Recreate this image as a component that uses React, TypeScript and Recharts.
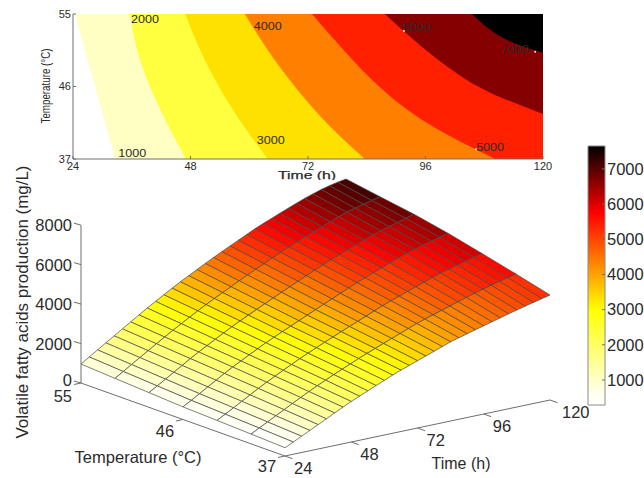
import React from "react";
import { Area, Bar, BarChart, ComposedChart, Line, Scatter, XAxis, YAxis } from "recharts";

const timeTicks = [24, 48, 72, 96, 120];
const tempTicks = [37, 46, 55];
const zTicks = [0, 2000, 4000, 6000, 8000];
const barTicks = [1000, 2000, 3000, 4000, 5000, 6000, 7000];

// Contour lines: time (h) and temperature (°C) along each level
const c1000t = [24.4, 28.5, 32.6];
const c1000T = [55, 46, 37];
const c2000t = [35.6, 37.1, 39.7, 43.2, 47.1];
const c2000T = [55, 50.5, 46, 41.4, 37];
const c3000t = [46.9, 50, 53.8, 58.5, 63.8];
const c3000T = [55, 50.5, 46, 41.4, 37];
const c4000t = [59.1, 63.8, 69.3, 75.9, 83.6];
const c4000T = [55, 50.5, 46, 41.4, 37];
const c5000t = [72.8, 79.3, 86.5, 96.5, 110.2];
const c5000T = [55, 50.5, 46, 41.4, 37];
const c6000t = [87.7, 95.3, 102, 109, 120];
const c6000T = [55, 50.9, 47.8, 45.3, 42.6];
const c7000t = [105.5, 111.6, 120];
const c7000T = [55, 52.1, 50.2];

const bandFills = ["#FFFFC4", "#FFFF40", "#FFE100", "#FF8000", "#FF2000", "#850000", "#000000"];

const contourLabelText = ["1000", "2000", "3000", "4000", "5000", "6000", "7000"];
const contourLabelTime = [36.1, 38.7, 64.4, 63.8, 109.2, 94.3, 114.3];
const contourLabelTemp = [37.7, 54.4, 39.4, 53.5, 38.5, 53.4, 50.6];
const contourMarkTime = [91.6, 118.4, 106.3];
const contourMarkTemp = [52.9, 50.3, 38.2];

// Surface grid
const gridTimes = [24, 27, 30, 33, 36, 39, 42, 45, 48, 51, 54, 57, 60, 63, 66, 69, 72, 75, 78, 81, 84, 87, 90, 93, 96, 99, 102, 105, 108, 111, 114, 117, 120];
const gridTemps = [37, 40, 43, 46, 49, 52, 55];
const z37 = [420, 620, 825, 1030, 1235, 1440, 1650, 1855, 2055, 2235, 2415, 2595, 2770, 2950, 3110, 3260, 3410, 3560, 3710, 3860, 4015, 4130, 4245, 4360, 4470, 4585, 4695, 4810, 4920, 5025, 5125, 5225, 5320];
const z40 = [497, 711, 932, 1154, 1375, 1597, 1816, 2026, 2233, 2426, 2620, 2803, 2985, 3169, 3339, 3503, 3667, 3830, 3992, 4156, 4321, 4459, 4590, 4722, 4850, 4980, 5108, 5237, 5350, 5459, 5564, 5668, 5768];
const z43 = [570, 797, 1032, 1271, 1507, 1746, 1973, 2188, 2402, 2606, 2813, 3000, 3188, 3375, 3555, 3733, 3910, 4084, 4257, 4435, 4610, 4769, 4915, 5064, 5208, 5353, 5497, 5640, 5756, 5868, 5978, 6085, 6190];
const z46 = [640, 880, 1130, 1385, 1635, 1890, 2125, 2345, 2565, 2780, 3000, 3190, 3385, 3575, 3765, 3955, 4145, 4330, 4515, 4705, 4890, 5070, 5230, 5395, 5555, 5715, 5875, 6030, 6150, 6265, 6380, 6490, 6600];
const z49 = [746, 996, 1252, 1512, 1767, 2025, 2270, 2505, 2738, 2965, 3193, 3401, 3609, 3809, 4009, 4209, 4407, 4601, 4791, 4984, 5174, 5360, 5527, 5694, 5857, 6019, 6180, 6340, 6470, 6593, 6713, 6830, 6947];
const z52 = [851, 1111, 1374, 1639, 1899, 2161, 2415, 2665, 2912, 3150, 3386, 3612, 3834, 4044, 4253, 4463, 4670, 4871, 5066, 5263, 5458, 5651, 5824, 5992, 6159, 6322, 6486, 6650, 6790, 6905, 7015, 7120, 7220];
const z55 = [960, 1230, 1500, 1770, 2035, 2300, 2565, 2830, 3090, 3340, 3585, 3830, 4065, 4285, 4505, 4725, 4940, 5150, 5350, 5550, 5750, 5950, 6130, 6300, 6470, 6635, 6800, 6960, 7100, 7230, 7340, 7430, 7500];
const gridValues = [z37, z40, z43, z46, z49, z52, z55];

// Reversed "hot" colour scale
const scaleValues = [290, 600, 3000, 5750, 7650];
const scaleRgb = [[255, 255, 255], [255, 255, 240], [255, 255, 0], [255, 0, 0], [0, 0, 0]];

const TEXT = "#2b2b2b";
const AXIS = "#6e6e6e";
const FONT = "'Liberation Sans', Arial, sans-serif";

const colorOf = (v: number) => {
  for (let i = 0; i < scaleValues.length - 1; i++) {
    if (v <= scaleValues[i + 1]) {
      const f = Math.max(0, (v - scaleValues[i]) / (scaleValues[i + 1] - scaleValues[i]));
      const c = scaleRgb[i].map((a, k) => Math.round(a + (scaleRgb[i + 1][k] - a) * f));
      return `rgb(${c[0]},${c[1]},${c[2]})`;
    }
  }
  return "rgb(0,0,0)";
};

// Orthographic view of (time, temperature, value) on the page plane
const project = (t: number, T: number, z: number) => ({
  sx: 81 + ((55 - T) / 18) * 204 + ((t - 24) / 96) * 265,
  sy: 383 + ((55 - T) / 18) * 73 - ((t - 24) / 96) * 56 - z * 0.01973,
});

const cells: any[] = [];
for (let j = gridTemps.length - 2; j >= 0; j--) {
  for (let i = gridTimes.length - 2; i >= 0; i--) {
    const corners = [
      project(gridTimes[i], gridTemps[j], gridValues[j][i]),
      project(gridTimes[i + 1], gridTemps[j], gridValues[j][i + 1]),
      project(gridTimes[i + 1], gridTemps[j + 1], gridValues[j + 1][i + 1]),
      project(gridTimes[i], gridTemps[j + 1], gridValues[j + 1][i]),
    ];
    // flat facet coloured from its first corner
    cells.push({ ...corners[0], corners, fill: colorOf(gridValues[j][i]) });
  }
}

const CellShape = (p: any) => {
  const { cx, cy, payload } = p;
  const pts = payload.corners.map((c: any) => `${cx + c.sx - payload.sx},${cy + c.sy - payload.sy}`).join(" ");
  return <polygon points={pts} fill={payload.fill} stroke="#484848" strokeWidth={0.7} strokeLinejoin="round" />;
};

const LabelShape = (p: any) => {
  const { cx, cy, payload } = p;
  return (
    <text x={cx + (payload.dx || 0)} y={cy + (payload.dy || 0)} textAnchor={payload.anchor || "middle"} dominantBaseline="central"
      fontFamily={FONT} fontSize={16.5} fill={TEXT}>
      {payload.text}
    </text>
  );
};

const ContourLabelShape = (p: any) => {
  const { cx, cy, payload } = p;
  return (
    <text x={cx} y={cy} textAnchor="middle" dominantBaseline="central" fontFamily={FONT} fontSize={11} fill={TEXT}
      textLength={28} lengthAdjust="spacingAndGlyphs">
      {payload.text}
    </text>
  );
};

const MarkShape = (p: any) => <circle cx={p.cx} cy={p.cy} r={1} fill="#f4f4f4" />;

const rows = (ts: number[], Ts: number[]) => ts.map((t, i) => ({ t, T: Ts[i] }));
const bands = [rows(c1000t, c1000T), rows(c2000t, c2000T), rows(c3000t, c3000T), rows(c4000t, c4000T), rows(c5000t, c5000T), rows(c6000t, c6000T), rows(c7000t, c7000T)];
// right of where a level leaves through the bottom edge, its band fills the full height
const bandTails = bands.map((b) => {
  const end = b[b.length - 1];
  return end.T === 37 ? [{ t: end.t - 0.25, T: 37 }, { t: 120, T: 37 }] : null;
});
const contourLabels = contourLabelText.map((text, i) => ({ text, t: contourLabelTime[i], T: contourLabelTemp[i] }));
const contourMarks = rows(contourMarkTime, contourMarkTemp);

const seg = (a: { sx: number; sy: number }, dx: number, dy: number) => [a, { sx: a.sx + dx, sy: a.sy + dy }];
const axisSegments = [
  [project(24, 55, 0), project(24, 55, 8000)],
  [project(24, 55, 0), project(24, 37, 0)],
  [project(24, 37, 0), project(120, 37, 0)],
  ...zTicks.map((z) => seg(project(24, 55, z), -7, -2)),
  ...tempTicks.map((T) => seg(project(24, T, 0), -7, 1.5)),
  ...timeTicks.map((t) => seg(project(t, 37, 0), 7.5, 2.7)),
];

const surfaceLabels = [
  ...zTicks.map((z) => ({ ...project(24, 55, z), text: String(z), anchor: "end", dx: -9, dy: z === 0 ? -3 : 0 })),
  { ...project(24, 55, 0), text: "55", anchor: "end", dx: -9, dy: 13 },
  { ...project(24, 46, 0), text: "46", dx: -18, dy: 11.5 },
  { ...project(24, 37, 0), text: "37", dx: -18, dy: 10 },
  ...timeTicks.map((t) => ({ ...project(t, 37, 0), text: String(t), anchor: "start", dx: t === 120 ? 12 : 9, dy: 12 })),
];

const scaleData = [{ name: "scale", range: [290, 7650] }];

export default function App() {
  return (
    <div style={{ position: "absolute", left: 0, top: 0, width: 644, height: 478, background: "#fff", overflow: "hidden" }}>
      {/* 3D surface */}
      <div style={{ position: "absolute", left: 0, top: 0 }}>
        <ComposedChart width={644} height={478} margin={{ top: 0, right: 0, bottom: 0, left: 0 }}>
          <XAxis type="number" dataKey="sx" domain={[0, 644]} hide allowDataOverflow />
          <YAxis type="number" dataKey="sy" domain={[0, 478]} reversed hide allowDataOverflow />
          {axisSegments.map((d, i) => (
            <Line key={i} data={d} dataKey="sy" type="linear" dot={false} activeDot={false} stroke={AXIS} strokeWidth={1} isAnimationActive={false} />
          ))}
          <Scatter data={cells} shape={CellShape} isAnimationActive={false} />
          <Scatter data={surfaceLabels} shape={LabelShape} isAnimationActive={false} />
          <text x={22} y={302} transform="rotate(-90 22 302)" textAnchor="middle" dominantBaseline="central" fontFamily={FONT} fontSize={16.5} fill={TEXT} textLength={273} lengthAdjust="spacingAndGlyphs">
            Volatile fatty acids production (mg/L)
          </text>
          <text x={138} y={457} textAnchor="middle" dominantBaseline="central" fontFamily={FONT} fontSize={16.5} fill={TEXT} textLength={127} lengthAdjust="spacingAndGlyphs">
            Temperature (°C)
          </text>
          <text x={461} y={463} textAnchor="middle" dominantBaseline="central" fontFamily={FONT} fontSize={16.5} fill={TEXT} textLength={59} lengthAdjust="spacingAndGlyphs">
            Time (h)
          </text>
        </ComposedChart>
      </div>

      {/* Contour map */}
      <div style={{ position: "absolute", left: 0, top: 0 }}>
        <ComposedChart width={644} height={180} margin={{ top: 14, right: 101, bottom: 5, left: 0 }}>
          <XAxis type="number" dataKey="t" domain={[24, 120]} ticks={timeTicks} height={16} allowDataOverflow
            tickSize={-3} tickMargin={6} stroke={AXIS} tick={{ fontFamily: FONT, fontSize: 11, fill: TEXT }} interval={0} />
          <XAxis xAxisId="top" orientation="top" type="number" domain={[24, 120]} ticks={timeTicks} height={0} tickSize={-3}
            tickFormatter={() => ""} stroke={AXIS} interval={0} />
          <YAxis type="number" dataKey="T" domain={[37, 55]} ticks={tempTicks} width={73} allowDataOverflow
            tickSize={-3} tickMargin={5} stroke={AXIS} tick={{ fontFamily: FONT, fontSize: 11, fill: TEXT }} interval={0} />
          <YAxis yAxisId="right" orientation="right" type="number" domain={[37, 55]} ticks={tempTicks} width={0} tickSize={-3}
            tickFormatter={() => ""} stroke={AXIS} interval={0} />
          {bands.map((d, i) => (
            <React.Fragment key={i}>
              <Area data={d} dataKey="T" baseValue={55} type="natural" fill={bandFills[i]} fillOpacity={1} stroke="none" dot={false} activeDot={false} isAnimationActive={false} />
              {bandTails[i] && (
                <Area data={bandTails[i] as any} dataKey="T" baseValue={55} type="linear" fill={bandFills[i]} fillOpacity={1} stroke="none" dot={false} activeDot={false} isAnimationActive={false} />
              )}
            </React.Fragment>
          ))}
          <Scatter data={contourMarks} shape={MarkShape} isAnimationActive={false} />
          <Scatter data={contourLabels} shape={ContourLabelShape} isAnimationActive={false} />
          <text x={307} y={174.5} textAnchor="middle" dominantBaseline="central" fontFamily={FONT} fontSize={11} fill={TEXT} stroke={TEXT} strokeWidth={0.25} textLength={58} lengthAdjust="spacingAndGlyphs">
            Time (h)
          </text>
          <text x={46} y={86} transform="rotate(-90 46 86)" textAnchor="middle" dominantBaseline="central" fontFamily={FONT} fontSize={12} fill={TEXT} textLength={75} lengthAdjust="spacingAndGlyphs">
            Temperature (°C)
          </text>
        </ComposedChart>
      </div>

      {/* Colour bar */}
      <div style={{ position: "absolute", left: 570, top: 136 }}>
        <BarChart width={74} height={280} data={scaleData} margin={{ top: 10, right: 0, bottom: 11, left: 0 }} barCategoryGap={0}>
          <defs>
            <linearGradient id="scaleFill" x1="0" y1="1" x2="0" y2="0">
              {scaleValues.map((v, i) => (
                <stop key={i} offset={(v - 290) / (7650 - 290)} stopColor={`rgb(${scaleRgb[i].join(",")})`} />
              ))}
            </linearGradient>
          </defs>
          <XAxis dataKey="name" hide />
          <YAxis yAxisId="left" orientation="left" type="number" domain={[290, 7650]} ticks={barTicks} width={18} tickSize={-3}
            tickFormatter={() => ""} axisLine={false} stroke={AXIS} interval={0} />
          <YAxis orientation="right" type="number" domain={[290, 7650]} ticks={barTicks} width={39} tickSize={-3} tickMargin={5} axisLine={false}
            stroke={AXIS} tick={{ fontFamily: FONT, fontSize: 16.5, fill: TEXT, textAnchor: "start" }} interval={0} />
          <Bar dataKey="range" fill="url(#scaleFill)" stroke="#8a8a8a" strokeWidth={1} isAnimationActive={false} />
        </BarChart>
      </div>
    </div>
  );
}
